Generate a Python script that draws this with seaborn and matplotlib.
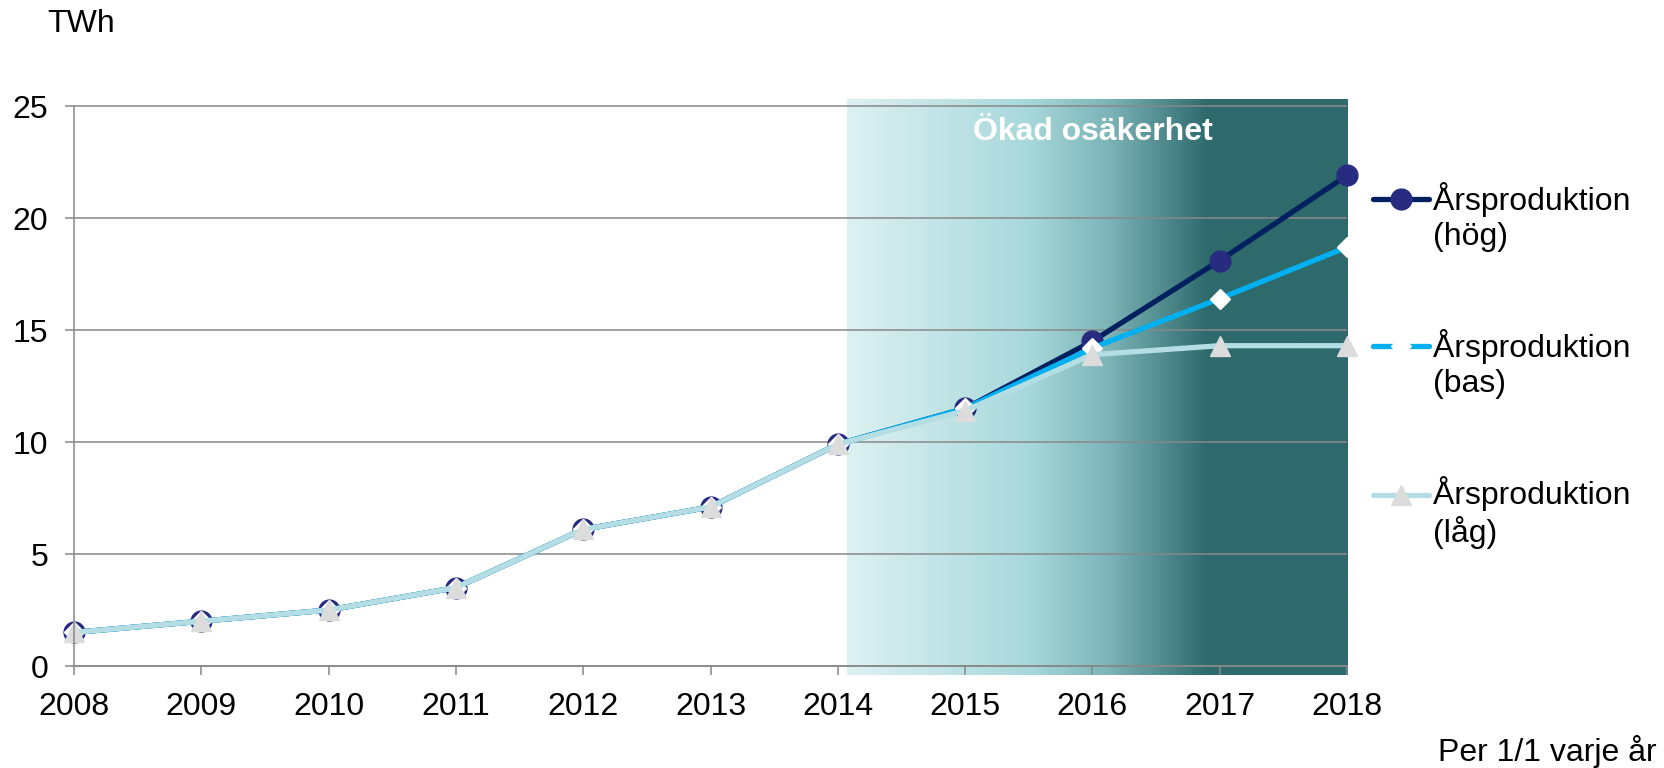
"""
Annual production (TWh) 2008-2018 with high / base / low scenarios
and a shaded band marking increased uncertainty.
"""

import numpy as np
import pandas as pd
import matplotlib
matplotlib.use('Agg')
import matplotlib.pyplot as plt
from matplotlib.colors import LinearSegmentedColormap
import seaborn as sns

years = [2008, 2009, 2010, 2011, 2012, 2013, 2014, 2015, 2016, 2017, 2018]
prod_high = [1.5, 2.0, 2.5, 3.5, 6.1, 7.1, 9.9, 11.5, 14.5, 18.1, 21.9]
prod_base = [1.5, 2.0, 2.5, 3.5, 6.1, 7.1, 9.9, 11.5, 14.2, 16.4, 18.7]
prod_low = [1.5, 2.0, 2.5, 3.5, 6.1, 7.1, 9.9, 11.4, 13.9, 14.3, 14.3]
series_labels = ['\nÅrsproduktion\n(hög)', '\nÅrsproduktion\n(bas)', '\nÅrsproduktion\n(låg)']
band_start, band_end = 2014.07, 2018

FS = 23


def main():
    sns.set_style('white')
    plt.rcParams['font.family'] = ['Liberation Sans', 'DejaVu Sans']
    plt.rcParams['text.color'] = 'black'

    df = pd.DataFrame({'year': years, 'high': prod_high,
                       'base': prod_base, 'low': prod_low})

    fig = plt.figure(figsize=(16.64, 7.68), dpi=100)
    ax = fig.add_axes([0.0445, 0.1217, 0.765, 0.7499])

    # gradient band "Ökad osäkerhet"
    cmap = LinearSegmentedColormap.from_list('band', [
        (0.0, '#DDF1F2'), (0.36, '#A8D8DB'), (0.52, '#7DB5B8'),
        (0.72, '#2E6A6C'), (1.0, '#2E6A6C')])
    grad = np.linspace(0, 1, 256).reshape(1, -1)
    ax.imshow(grad, cmap=cmap, aspect='auto', zorder=0,
              extent=[band_start, band_end, -0.38, 25.33])

    styles = [
        ('high', '#002060', 'o', '#282C80', '#282C80', 15, 3.8),
        ('base', '#00B0F0', 'D', 'white', 'white', 10, 3.8),
        ('low', '#B4DEE4', '^', '#DCDCDC', '#DCDCDC', 15, 3.8),
    ]
    for (col, lc, mk, mfc, mec, ms, lw), lab in zip(styles, series_labels):
        sns.lineplot(data=df, x='year', y=col, color=lc, lw=lw, marker=mk,
                     ms=ms, mfc=mfc, mec=mec, mew=1, label=lab,
                     clip_on=False, ax=ax)

    ax.text(2016, 23.85, 'Ökad osäkerhet', ha='center', va='center',
            color='white', fontsize=FS, fontweight='bold')

    ax.set_xlim(2008, 2018)
    ax.set_ylim(-0.38, 25.33)
    ax.set_xticks(years)
    ax.set_yticks(range(0, 26, 5))
    ax.set_xlabel('')
    ax.set_ylabel('')
    ax.grid(axis='y', color='#888888', lw=1.1)
    ax.grid(axis='x', visible=False)
    ax.tick_params(axis='both', labelsize=FS, labelcolor='black',
                   length=6.5, width=1.1, direction='out', color='#888888',
                   bottom=True, left=True)
    ax.tick_params(axis='x', pad=12)
    ax.tick_params(axis='y', pad=12)

    for s in ['top', 'right']:
        ax.spines[s].set_visible(False)
    for s in ['left', 'bottom']:
        ax.spines[s].set_color('#888888')
        ax.spines[s].set_linewidth(1.1)
    ax.spines['bottom'].set_position(('data', 0))
    ax.spines['left'].set_bounds(0, 25)

    leg = ax.legend(loc='upper left', bbox_to_anchor=(1373 / 1664, 1 - 146 / 768),
                    bbox_transform=fig.transFigure, frameon=False, fontsize=FS,
                    handlelength=1.75, handletextpad=0.12, labelspacing=1.27,
                    borderpad=0, borderaxespad=0)
    for t in leg.get_texts():
        t.set_linespacing(1.22)
        t.set_color('black')

    fig.text(47 / 1664, 1 - 24 / 768, 'TWh', ha='left', va='center', fontsize=FS)
    fig.text(1657 / 1664, 1 - 751 / 768, 'Per 1/1 varje år', ha='right',
             va='center', fontsize=FS)

    fig.savefig('out.png', dpi=100)


if __name__ == '__main__':
    main()
